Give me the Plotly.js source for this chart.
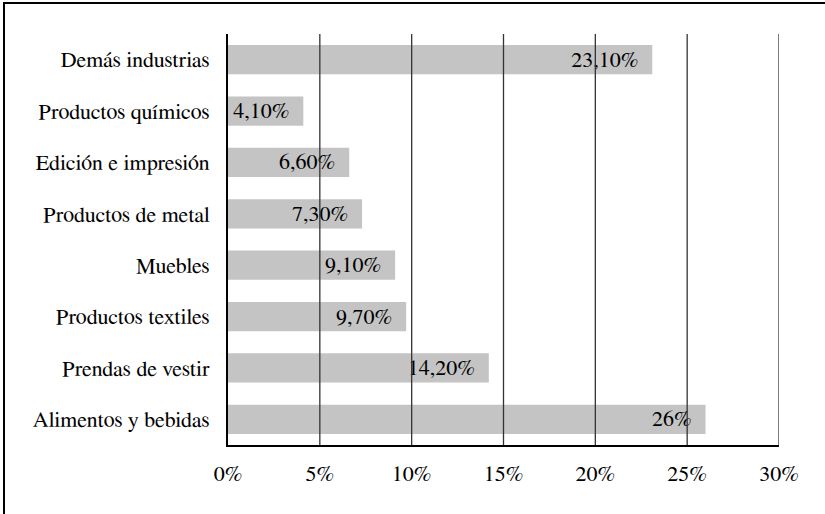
<!DOCTYPE html>
<html>
<head>
<meta charset="utf-8">
<script src="https://cdn.plot.ly/plotly-3.0.1.min.js"></script>
<style>
  html, body { margin: 0; padding: 0; background: #fff; overflow: hidden; }
  #chart { width: 825px; height: 514px; }
  #frame {
    position: absolute; left: 3px; top: 2px; width: 900px; height: 600px;
    border-left: 2px solid #000; border-top: 2px solid #000;
    pointer-events: none;
  }
</style>
</head>
<body>
<div id="chart"></div>
<div id="frame"></div>
<script>
// Industry share (%), listed bottom to top
const categories = [
  'Alimentos y bebidas',
  'Prendas de vestir',
  'Productos textiles',
  'Muebles',
  'Productos de metal',
  'Edición e impresión',
  'Productos químicos',
  'Demás industrias'
];
const shares = [26, 14.2, 9.7, 9.1, 7.3, 6.6, 4.1, 23.1];
const shareLabels = ['26%', '14,20%', '9,70%', '9,10%', '7,30%', '6,60%', '4,10%', '23,10%'];
const xTickValues = [0, 5, 10, 15, 20, 25, 30];
const xTickLabels = ['0%', '5%', '10%', '15%', '20%', '25%', '30%'];

const serif = 'FreeSerif';
const pad = '\u00a0\u00a0';

const trace = {
  type: 'bar',
  orientation: 'h',
  x: shares,
  y: categories,
  text: shareLabels.map(s => s + pad),
  textposition: 'inside',
  insidetextanchor: 'end',
  constraintext: 'none',
  textfont: { family: serif, size: 22, color: '#000' },
  marker: { color: '#c4c4c4', line: { width: 0 } },
  hoverinfo: 'none'
};

// vertical grid drawn over the bars
const gridShapes = xTickValues.filter(v => v > 0).map(v => ({
  type: 'line', layer: 'above',
  xref: 'x', yref: 'paper',
  x0: v, x1: v, y0: 0, y1: 1,
  line: { color: '#333', width: 1.3 }
}));

const layout = {
  width: 825,
  height: 514,
  margin: { l: 228, r: 46, t: 34, b: 69, pad: 0 },
  paper_bgcolor: '#fff',
  plot_bgcolor: '#fff',
  showlegend: false,
  bargap: 0.43,
  font: { family: serif, size: 22, color: '#000' },
  xaxis: {
    range: [0, 30],
    tickvals: xTickValues,
    ticktext: xTickLabels,
    showgrid: false,
    zeroline: false,
    showline: true,
    linecolor: '#000',
    linewidth: 2,
    ticks: '',
    ticklabelstandoff: 8,
    tickfont: { family: serif, size: 22, color: '#000' },
    fixedrange: true
  },
  yaxis: {
    type: 'category',
    categoryorder: 'array',
    categoryarray: categories,
    range: [-0.5, categories.length - 0.5],
    showgrid: false,
    zeroline: false,
    showline: true,
    linecolor: '#000',
    linewidth: 2,
    ticks: '',
    ticklabelstandoff: 12,
    tickfont: { family: serif, size: 22, color: '#000' },
    fixedrange: true
  },
  shapes: gridShapes
};

Plotly.newPlot('chart', [trace], layout, { staticPlot: true, displayModeBar: false });
</script>
</body>
</html>
